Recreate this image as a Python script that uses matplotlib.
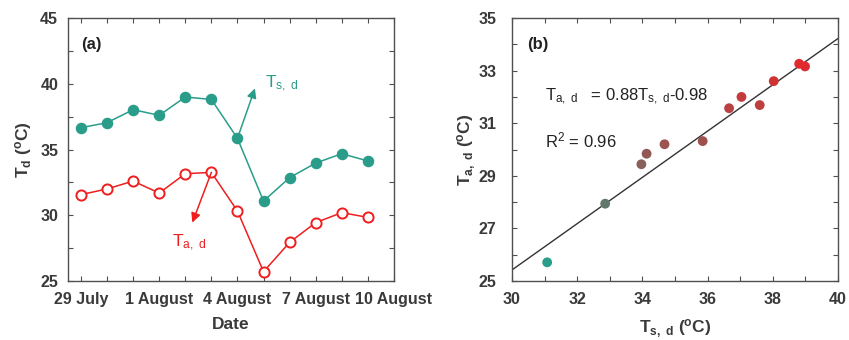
import numpy as np
import matplotlib
matplotlib.use("Agg")
import matplotlib.pyplot as plt
from matplotlib.colors import LinearSegmentedColormap
from matplotlib.ticker import MultipleLocator

# --- daily values, 29 July to 9 August ---
dates = ['29 July', '30 July', '31 July', '1 August', '2 August', '3 August',
         '4 August', '5 August', '6 August', '7 August', '8 August', '9 August']
ts_d = [36.66, 37.04, 38.03, 37.60, 38.99, 38.81,
        35.85, 31.08, 32.86, 33.97, 34.68, 34.13]
ta_d = [31.57, 32.00, 32.60, 31.69, 33.16, 33.26,
        30.32, 25.71, 27.94, 29.44, 30.20, 29.84]
date_ticks = ['29 July', '1 August', '4 August', '7 August', '10 August']

# regression line
slope = 0.88
intercept = -0.98
r2 = 0.96

teal = '#2a9d8a'
red = '#f01e1e'
grey = '#3a3a3a'

plt.rcParams['font.family'] = ['Liberation Sans', 'DejaVu Sans']
plt.rcParams['mathtext.fontset'] = 'custom'
plt.rcParams['mathtext.rm'] = 'Liberation Sans'
plt.rcParams['mathtext.it'] = 'Liberation Sans:italic'
plt.rcParams['mathtext.bf'] = 'Liberation Sans:bold'

fig = plt.figure(figsize=(8.49, 3.4), dpi=100)
ax1 = fig.add_axes([0.080, 0.1735, 0.384, 0.7735])
ax2 = fig.add_axes([0.603, 0.1735, 0.384, 0.7735])


def style_axes(ax, ypad):
    for sp in ax.spines.values():
        sp.set_color('#505050')
        sp.set_linewidth(1.0)
    ax.tick_params(which='both', direction='in', top=True, right=True,
                   length=3.5, width=0.8, color='#505050',
                   labelsize=11.5, labelcolor=grey)
    ax.tick_params(axis='x', pad=8)
    ax.tick_params(axis='y', pad=ypad)
    for lab in ax.get_xticklabels() + ax.get_yticklabels():
        lab.set_fontweight('bold')


# --- (a) time series ---
days = np.arange(len(dates))
ax1.plot(days, ts_d, '-o', color=teal, lw=1.1, ms=7.3, mfc=teal, mec=teal)
ax1.plot(days, ta_d, '-o', color=red, lw=1.1, ms=7.3, mfc='white',
         mec=red, mew=1.4)
ax1.set_xlim(-0.5, 12)
ax1.set_ylim(25, 45)
ax1.set_xticks(np.arange(0, 13, 3))
ax1.set_xticklabels(date_ticks)
ax1.xaxis.set_minor_locator(MultipleLocator(1))
ax1.yaxis.set_major_locator(MultipleLocator(5))
ax1.yaxis.set_minor_locator(MultipleLocator(2.5))
style_axes(ax1, 7)
ax1.set_xlabel('Date', fontsize=12.5, fontweight='bold', color=grey)
ax1.set_ylabel(r'T$_\mathregular{d}$ ($^\mathregular{o}$C)', fontsize=12.5,
               fontweight='bold', color=grey)
ax1.xaxis.set_label_coords(0.5, -0.138)
ax1.yaxis.set_label_coords(-0.105, 0.5)
ax1.text(0.04, 0.90, '(a)', transform=ax1.transAxes, fontsize=12,
         fontweight='bold', color='#222222', va='center')

ax1.annotate('', xy=(6.67, 39.65), xytext=(days[6], ts_d[6]),
             arrowprops=dict(arrowstyle='-|>', color=teal, lw=1.1,
                             mutation_scale=14, shrinkA=0, shrinkB=0))
ax1.text(7.05, 40.0, r'T$_\mathregular{s,\ d}$', color=teal, fontsize=12.5,
         va='center', ha='left')
ax1.annotate('', xy=(4.27, 29.44), xytext=(days[5], ta_d[5]),
             arrowprops=dict(arrowstyle='-|>', color=red, lw=1.1,
                             mutation_scale=14, shrinkA=0, shrinkB=0))
ax1.text(3.5, 27.9, r'T$_\mathregular{a,\ d}$', color=red, fontsize=12.5,
         va='center', ha='left')

# --- (b) scatter with fitted line ---
cmap = LinearSegmentedColormap.from_list('tr', [teal, '#8a5e58', '#e02a2e'])
ax2.scatter(ts_d, ta_d, c=ta_d, cmap=cmap, s=50, zorder=3, edgecolors='none')
xl = np.array([30, 40])
ax2.plot(xl, slope * xl + intercept, color='#333333', lw=1.0, zorder=2)
ax2.set_xlim(30, 40)
ax2.set_ylim(25, 35)
ax2.xaxis.set_major_locator(MultipleLocator(2))
ax2.xaxis.set_minor_locator(MultipleLocator(1))
ax2.set_yticks([25, 27, 29, 31, 33, 35])
ax2.yaxis.set_minor_locator(MultipleLocator(1))
style_axes(ax2, 11)
ax2.set_xlabel(r'T$_\mathregular{s,\ d}$ ($^\mathregular{o}$C)', fontsize=12.5,
               fontweight='bold', color=grey)
ax2.set_ylabel(r'T$_\mathregular{a,\ d}$ ($^\mathregular{o}$C)', fontsize=12.5,
               fontweight='bold', color=grey)
ax2.xaxis.set_label_coords(0.5, -0.138)
ax2.yaxis.set_label_coords(-0.104, 0.5)
ax2.text(0.046, 0.90, '(b)', transform=ax2.transAxes, fontsize=12,
         fontweight='bold', color='#222222', va='center')
ax2.text(31.0, 32.0,
         r'T$_\mathregular{a,\ d}$   = %.2fT$_\mathregular{s,\ d}$-%.2f'
         % (slope, -intercept), fontsize=12, color='#222222', va='center')
ax2.text(31.0, 30.35, r'R$^\mathregular{2}$ = %.2f' % r2, fontsize=12,
         color='#222222', va='center')

fig.savefig('out.png', dpi=100)
